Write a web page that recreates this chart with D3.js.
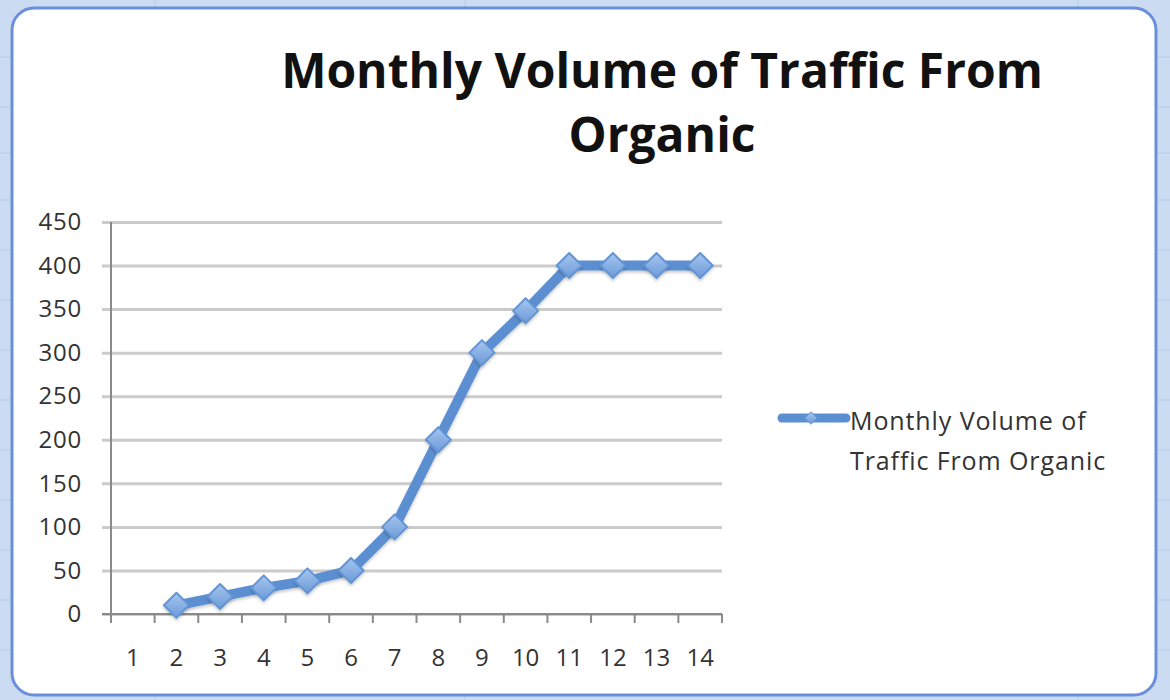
<!DOCTYPE html>
<html>
<head>
<meta charset="utf-8">
<script src="https://cdn.jsdelivr.net/npm/d3@7"></script>
<style>
  body { margin: 0; background: #cbdcf2; }
  svg { display: block; }
</style>
</head>
<body>
<script>
// data
const MONTHS = ['1', '2', '3', '4', '5', '6', '7', '8', '9', '10', '11', '12', '13', '14']
const VOLUME = [null, 10, 20, 30, 38, 50, 100, 200, 300, 348, 400, 400, 400, 400]
const Y_TICKS = [0, 50, 100, 150, 200, 250, 300, 350, 400, 450]
const TITLE = ['Monthly Volume of Traffic From', 'Organic']
const LEGEND = ['Monthly Volume of', 'Traffic From Organic']

const WIDTH = 1170
const HEIGHT = 700
const FONT = "'Open Sans', sans-serif"
const BLUE = '#5b8fd1'

const svg = d3.select('body').append('svg')
  .attr('width', WIDTH)
  .attr('height', HEIGHT)

const defs = svg.append('defs')
const grad = defs.append('linearGradient')
  .attr('id', 'mk')
  .attr('x1', 0).attr('y1', 0).attr('x2', 0).attr('y2', 1)
grad.append('stop').attr('offset', '0%').attr('stop-color', '#a6c6ef')
grad.append('stop').attr('offset', '100%').attr('stop-color', '#6b9ad8')

const blur = defs.append('filter').attr('id', 'shadow')
  .attr('x', '-50%').attr('y', '-50%').attr('width', '200%').attr('height', '200%')
blur.append('feDropShadow')
  .attr('dx', 0).attr('dy', 2).attr('stdDeviation', 1.5)
  .attr('flood-color', '#000').attr('flood-opacity', 0.22)

// spreadsheet cells behind the chart
const bg = svg.append('g')
bg.selectAll('line.v')
  .data([155, 465, 1078])
  .enter()
  .append('line')
  .attr('x1', d => d).attr('x2', d => d)
  .attr('y1', 0).attr('y2', HEIGHT)
  .attr('stroke', '#b6cbe8')
bg.selectAll('line.h')
  .data([57, 107, 153, 200, 250, 300, 350, 400, 450, 500, 550, 600, 650])
  .enter()
  .append('line')
  .attr('x1', 0).attr('x2', WIDTH)
  .attr('y1', d => d).attr('y2', d => d)
  .attr('stroke', '#b6cbe8')

// chart frame
svg.append('rect')
  .attr('x', 12).attr('y', 8)
  .attr('width', 1144).attr('height', 687)
  .attr('rx', 22)
  .attr('fill', '#fff')
  .attr('stroke', '#6b8fdc')
  .attr('stroke-width', 3)

// title
svg.append('text')
  .attr('x', 662)
  .attr('y', 88)
  .attr('text-anchor', 'middle')
  .style('font-family', FONT)
  .style('font-weight', 'bold')
  .style('font-size', '48px')
  .attr('fill', '#111')
  .selectAll('tspan')
  .data(TITLE)
  .enter()
  .append('tspan')
  .attr('x', 662)
  .attr('dy', (d, i) => i === 0 ? 0 : 64)
  .text(d => d)

// plot area
const plotLeft = 111
const plotRight = 722
const plotTop = 222
const plotBottom = 614

const x = d3.scaleBand()
  .domain(MONTHS)
  .range([plotLeft, plotRight])

const y = d3.scaleLinear()
  .domain([0, 450])
  .range([plotBottom, plotTop])

const plot = svg.append('g')

// horizontal gridlines
const yAxis = plot.append('g')
  .attr('transform', `translate(${plotLeft},0)`)
  .call(d3.axisLeft(y)
    .tickValues(Y_TICKS)
    .tickSize(-(plotRight - plotLeft))
    .tickPadding(29))
yAxis.select('.domain').remove()
yAxis.selectAll('line')
  .attr('x1', -9)
  .attr('stroke', '#cbcbcb')
  .attr('stroke-width', 3)
yAxis.selectAll('text')
  .style('font-family', FONT)
  .style('font-size', '24px')
  .style('letter-spacing', '0.8px')
  .attr('fill', '#333')

// y axis line
plot.append('line')
  .attr('x1', plotLeft).attr('x2', plotLeft)
  .attr('y1', y(450)).attr('y2', y(0))
  .attr('stroke', '#8a8a8a')
  .attr('stroke-width', 2)

// x axis: ticks on category boundaries
const xAxis = plot.append('g')
  .attr('transform', `translate(0,${plotBottom})`)
xAxis.append('line')
  .attr('x1', plotLeft - 9).attr('x2', plotRight)
  .attr('stroke', '#8a8a8a')
  .attr('stroke-width', 2)
xAxis.selectAll('line.tk')
  .data(MONTHS.map(m => x(m)).concat([plotRight]))
  .enter()
  .append('line')
  .attr('class', 'tk')
  .attr('x1', d => d).attr('x2', d => d)
  .attr('y1', 0).attr('y2', 9)
  .attr('stroke', '#8a8a8a')
  .attr('stroke-width', 2)
xAxis.selectAll('text')
  .data(MONTHS)
  .enter()
  .append('text')
  .attr('x', d => x(d) + x.bandwidth() / 2)
  .attr('y', 52)
  .attr('text-anchor', 'middle')
  .style('font-family', FONT)
  .style('font-size', '24px')
  .attr('fill', '#333')
  .text(d => d)

// series
const points = MONTHS.map((m, i) => ({ m, v: VOLUME[i] })).filter(d => d.v !== null)

const line = d3.line()
  .x(d => x(d.m) + x.bandwidth() / 2)
  .y(d => y(d.v))

plot.append('path')
  .datum(points)
  .attr('d', line)
  .attr('fill', 'none')
  .attr('stroke', BLUE)
  .attr('stroke-width', 10)
  .attr('stroke-linejoin', 'round')
  .attr('filter', 'url(#shadow)')

const diamond = d3.symbol().type(d3.symbolDiamond2).size(400)

plot.selectAll('path.mk')
  .data(points)
  .enter()
  .append('path')
  .attr('class', 'mk')
  .attr('d', diamond)
  .attr('transform', d => `translate(${x(d.m) + x.bandwidth() / 2},${y(d.v)})`)
  .attr('fill', 'url(#mk)')
  .attr('stroke', '#6395d5')
  .attr('stroke-width', 2)
  .attr('stroke-linejoin', 'round')
  .attr('filter', 'url(#shadow)')

// legend
const legend = svg.append('g')
  .attr('transform', 'translate(782,418)')
legend.append('line')
  .attr('x1', 0).attr('x2', 64)
  .attr('stroke', BLUE)
  .attr('stroke-width', 9)
  .attr('stroke-linecap', 'round')
legend.append('path')
  .attr('d', d3.symbol().type(d3.symbolDiamond2).size(100))
  .attr('transform', 'translate(29,0)')
  .attr('fill', 'url(#mk)')
  .attr('stroke', '#6395d5')
legend.append('text')
  .attr('x', 68)
  .attr('y', 12)
  .style('font-family', FONT)
  .style('font-size', '25px')
  .style('letter-spacing', '0.9px')
  .attr('fill', '#333')
  .selectAll('tspan')
  .data(LEGEND)
  .enter()
  .append('tspan')
  .attr('x', 68)
  .attr('dy', (d, i) => i === 0 ? 0 : 40)
  .text(d => d)
</script>
</body>
</html>
